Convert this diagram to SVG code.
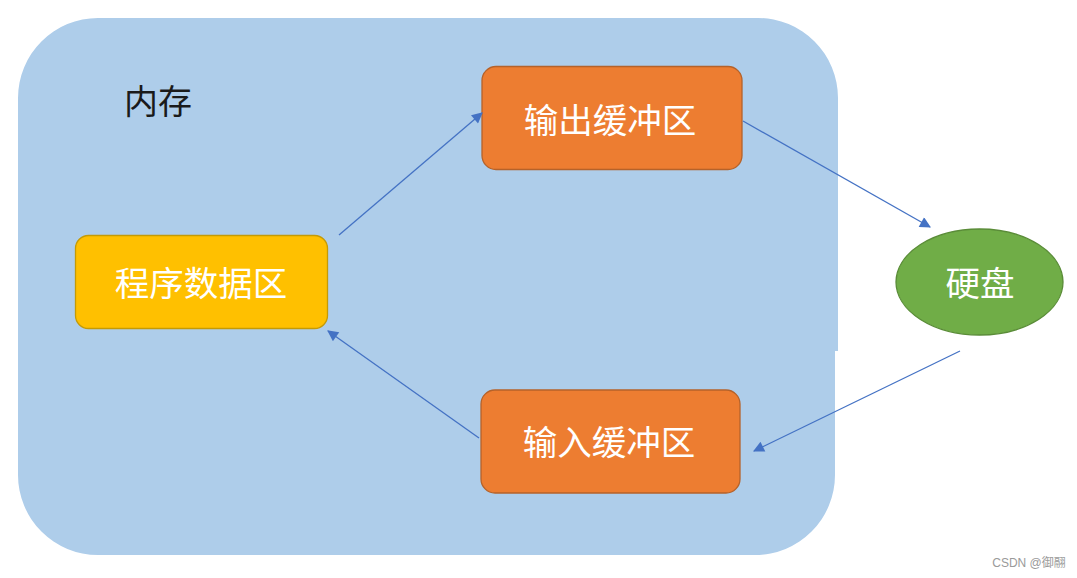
<svg xmlns="http://www.w3.org/2000/svg" width="1077" height="578" viewBox="0 0 1077 578">
<style>
.lbl{font-family:"Noto Sans CJK SC","Noto Sans",sans-serif;font-size:34.5px;fill:#ffffff;text-anchor:middle;dominant-baseline:central}
.buf{fill:#ED7D31;stroke:#B5622A;stroke-width:1.3}
.conn{stroke:#4472C4;stroke-width:1.3;fill:none;marker-end:url(#ah)}
</style>
<defs>
<marker id="ah" viewBox="0 0 10 10" refX="9" refY="5" markerWidth="12" markerHeight="11" markerUnits="userSpaceOnUse" orient="auto">
<path d="M0,0 L10,5 L0,10 z" fill="#4472C4"/>
</marker>
</defs>
<rect width="1077" height="578" fill="#ffffff"/>
<g id="memory">
<path d="M98,18 H758 A80,80 0 0 1 838,98 V351 H835 V475 A80,80 0 0 1 755,555 H98 A80,80 0 0 1 18,475 V98 A80,80 0 0 1 98,18 Z" fill="#AECDEA"/>
<text x="158" y="99" font-family="Noto Sans CJK SC,sans-serif" font-size="34" fill="#1a1a1a" text-anchor="middle" dominant-baseline="central">内存</text>
</g>
<g id="program-data">
<rect x="75.5" y="235.5" width="252" height="93" rx="13" fill="#FFC000" stroke="#C49A06" stroke-width="1.3"/>
<text class="lbl" x="201" y="281">程序数据区</text>
</g>
<g id="output-buffer">
<rect class="buf" x="482" y="66.5" width="260" height="103" rx="14"/>
<text class="lbl" x="610" y="118">输出缓冲区</text>
</g>
<g id="input-buffer">
<rect class="buf" x="481" y="390" width="259" height="103" rx="14"/>
<text class="lbl" x="609" y="440">输入缓冲区</text>
</g>
<g id="disk">
<ellipse cx="979.5" cy="282" rx="83.5" ry="53" fill="#70AD47" stroke="#5A8C38" stroke-width="1.3"/>
<text class="lbl" x="980" y="281">硬盘</text>
</g>
<g id="connectors">
<line class="conn" x1="339" y1="235" x2="482" y2="113"/>
<line class="conn" x1="743" y1="121" x2="930" y2="227"/>
<line class="conn" x1="960" y1="351" x2="754" y2="451"/>
<line class="conn" x1="479" y1="438" x2="328" y2="331"/>
</g>
<text x="1029" y="563" font-family="Liberation Sans,Noto Sans CJK SC,sans-serif" font-size="12" fill="#9a9a9a" text-anchor="middle" dominant-baseline="central">CSDN @御翮</text>
</svg>
